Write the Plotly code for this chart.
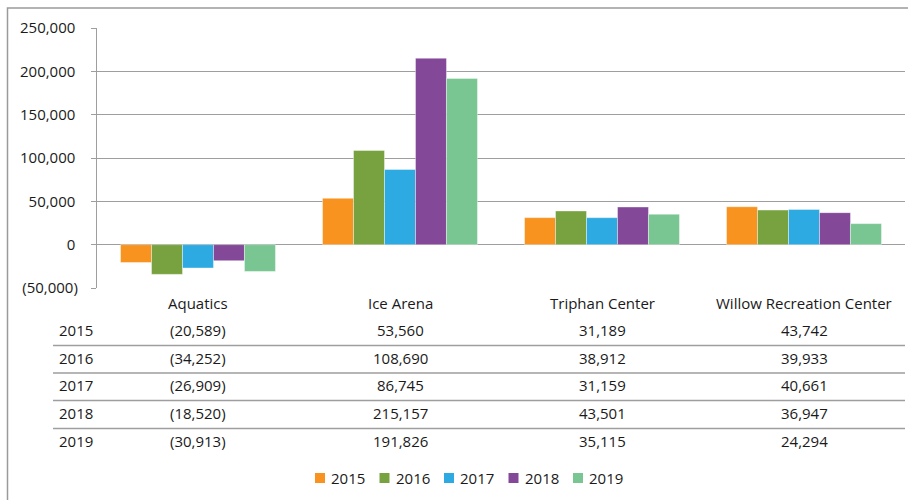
import plotly.graph_objects as go

categories = ["Aquatics", "Ice Arena", "Triphan Center", "Willow Recreation Center"]
years = ["2015", "2016", "2017", "2018", "2019"]
values_2015 = [-20589, 53560, 31189, 43742]
values_2016 = [-34252, 108690, 38912, 39933]
values_2017 = [-26909, 86745, 31159, 40661]
values_2018 = [-18520, 215157, 43501, 36947]
values_2019 = [-30913, 191826, 35115, 24294]
series_values = [values_2015, values_2016, values_2017, values_2018, values_2019]
colors = ["#F7931E", "#77A23F", "#2DAAE1", "#834898", "#7AC692"]
y_ticks = [-50000, 0, 50000, 100000, 150000, 200000, 250000]

W, H = 908, 500
FONT = "Open Sans"
TXT = "#1a1a1a"
GRID = "#9E9E9E"


def px(x):
    return x / W


def py(y):
    return 1 - y / H


def fmt(v):
    s = f"{abs(v):,.0f}"
    return f"({s})" if v < 0 else s + "\u2009"


fig = go.Figure()
for name, vals, col in zip(years, series_values, colors):
    fig.add_trace(go.Bar(
        name=name, x=categories, y=vals,
        marker=dict(color=col, line=dict(color="rgba(255,255,255,0.4)", width=1)),
        showlegend=False,
    ))

plot_top, plot_bot = 28, 288
fig.update_layout(
    template="none",
    width=W, height=H,
    margin=dict(l=0, r=0, t=0, b=0, autoexpand=False),
    paper_bgcolor="white", plot_bgcolor="white",
    barmode="group", bargap=0.233, bargroupgap=0,
    font=dict(family=FONT, size=15, color=TXT),
    xaxis=dict(domain=[px(97), px(905)], showticklabels=False, ticks="",
               showgrid=False, showline=False, zeroline=False, automargin=False),
    yaxis=dict(domain=[py(plot_bot), py(plot_top)], range=[-50000, 250000],
               tickvals=y_ticks, ticktext=[fmt(v) for v in y_ticks],
               showgrid=True, gridcolor=GRID, gridwidth=1.3,
               zeroline=True, zerolinecolor=GRID, zerolinewidth=1.3,
               showline=True, linecolor=GRID, linewidth=1.3,
               ticks="outside", ticklen=5, tickcolor=GRID, tickwidth=1.3,
               ticklabelstandoff=10, automargin=False,
               tickfont=dict(family=FONT, size=15, color=TXT)),
    showlegend=False,
)

shapes = []
annotations = []

# outer chart border (left + top visible)
shapes.append(dict(type="rect", xref="paper", yref="paper",
                   x0=px(7.5), x1=px(W + 10), y0=py(H + 10), y1=py(8),
                   line=dict(color="#9A9A9A", width=1.5), fillcolor="rgba(0,0,0,0)",
                   layer="below"))

# data table: header row with categories
header_y = 303
for cat in categories:
    annotations.append(dict(x=cat, xref="x", y=py(header_y), yref="paper",
                            text=cat, showarrow=False, xanchor="center", yanchor="middle",
                            font=dict(family=FONT, size=15, color=TXT)))

row_ys = [330, 358, 385, 413, 441]
for i, (name, vals) in enumerate(zip(years, series_values)):
    ry = row_ys[i]
    annotations.append(dict(x=px(57), xref="paper", y=py(ry), yref="paper",
                            text=name, showarrow=False, xanchor="left", yanchor="middle",
                            font=dict(family=FONT, size=15, color=TXT)))
    for cat, v in zip(categories, vals):
        s = f"{abs(v):,.0f}"
        annotations.append(dict(x=cat, xref="x", y=py(ry), yref="paper",
                                text=f"({s})" if v < 0 else s, showarrow=False,
                                xanchor="center", yanchor="middle",
                                font=dict(family=FONT, size=15, color=TXT)))
    if i < len(years) - 1:
        ly = (row_ys[i] + row_ys[i + 1]) / 2 + 1.5
        shapes.append(dict(type="line", xref="paper", yref="paper",
                           x0=px(53), x1=px(905), y0=py(ly), y1=py(ly),
                           line=dict(color=GRID, width=1.3)))

# legend
leg_x0, leg_step, leg_y = 315, 64.5, 478
for i, (name, col) in enumerate(zip(years, colors)):
    lx = leg_x0 + i * leg_step
    shapes.append(dict(type="rect", xref="paper", yref="paper",
                       x0=px(lx), x1=px(lx + 10), y0=py(leg_y + 5), y1=py(leg_y - 5),
                       fillcolor=col, line=dict(width=0)))
    annotations.append(dict(x=px(lx + 14), xref="paper", y=py(leg_y), yref="paper",
                            text=name, showarrow=False, xanchor="left", yanchor="middle",
                            font=dict(family=FONT, size=15, color=TXT)))

fig.update_layout(shapes=shapes, annotations=annotations)
fig.write_html(
    "out.html",
    config={"displayModeBar": False},
    post_script="document.body.style.margin='0';document.body.style.overflow='hidden';",
)
